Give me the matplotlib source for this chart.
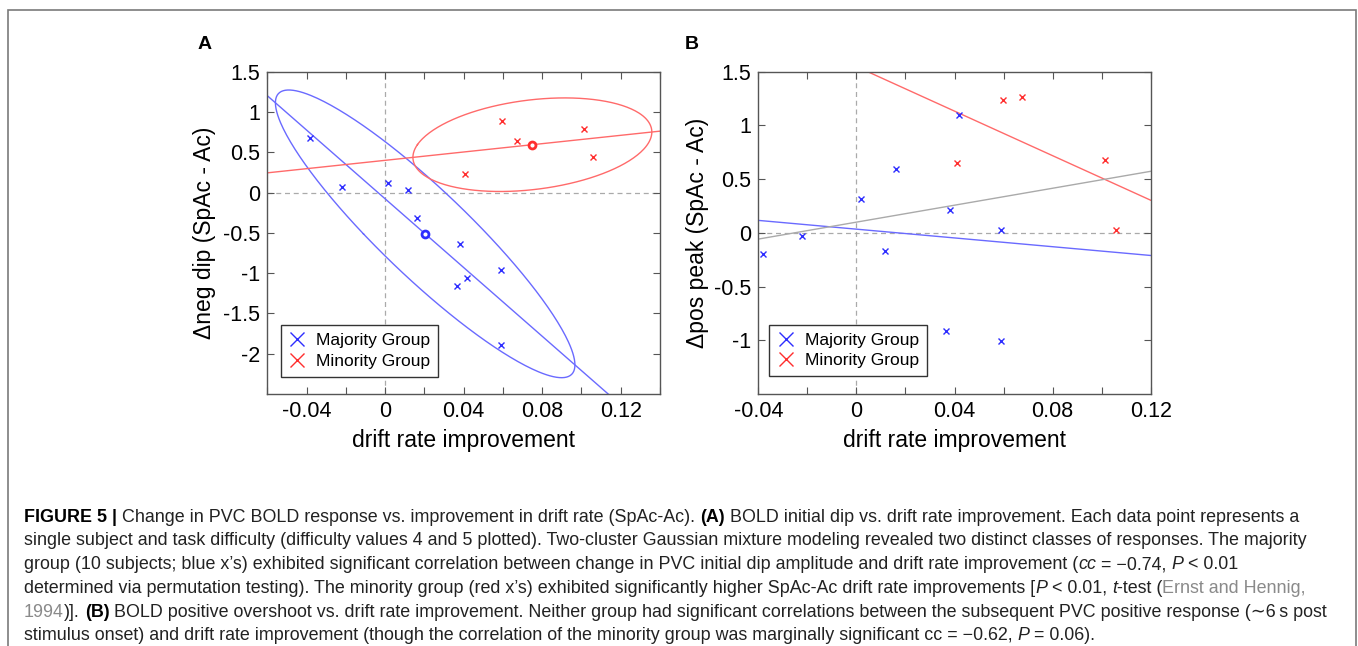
import numpy as np
import matplotlib
matplotlib.use('Agg')
import matplotlib.pyplot as plt
from matplotlib.lines import Line2D
from matplotlib.patches import Rectangle
from matplotlib.ticker import MultipleLocator

plt.rcParams['font.family'] = ['Liberation Sans', 'DejaVu Sans']

# valores
drift_maj = [-0.0382, -0.0221, 0.0017, 0.0116, 0.0163, 0.0381, 0.0367, 0.0418, 0.0591, 0.0590]
dip_maj = [0.678, 0.070, 0.124, 0.029, -0.318, -0.636, -1.157, -1.058, -0.967, -1.888]
peak_maj = [-0.195, -0.028, 0.313, -0.167, 0.591, 0.217, -0.913, 1.093, 0.022, -1.006]

drift_min = [0.0597, 0.0674, 0.0409, 0.1013, 0.1057]
dip_min = [0.884, 0.636, 0.227, 0.785, 0.438]
peak_min = [1.241, 1.260, 0.647, 0.678, 0.025]

xticks = [-0.04, 0, 0.04, 0.08, 0.12]
xtick_labels = ['-0.04', '0', '0.04', '0.08', '0.12']
yticks_a = [-2, -1.5, -1, -0.5, 0, 0.5, 1, 1.5]
ytick_labels_a = ['-2', '-1.5', '-1', '-0.5', '0', '0.5', '1', '1.5']
yticks_b = [-1, -0.5, 0, 0.5, 1, 1.5]
ytick_labels_b = ['-1', '-0.5', '0', '0.5', '1', '1.5']
legend_labels = ['Majority Group', 'Minority Group']

caption = [
    [("FIGURE 5 |", 'b'), (" Change in PVC BOLD response vs. improvement in drift rate (SpAc-Ac). ", ''),
     ("(A)", 'b'), (" BOLD initial dip vs. drift rate improvement. Each data point represents a", '')],
    [("single subject and task difficulty (difficulty values 4 and 5 plotted). Two-cluster Gaussian mixture "
      "modeling revealed two distinct classes of responses. The majority", '')],
    [("group (10 subjects; blue x\u2019s) exhibited significant correlation between change in PVC initial dip "
      "amplitude and drift rate improvement (", ''), ("cc", 'i'), (" = \u22120.74, ", ''), ("P", 'i'),
     (" < 0.01", '')],
    [("determined via permutation testing). The minority group (red x\u2019s) exhibited significantly higher "
      "SpAc-Ac drift rate improvements [", ''), ("P", 'i'), (" < 0.01, ", ''), ("t", 'i'), ("-test (", ''),
     ("Ernst and Hennig,", 'g')],
    [("1994", 'g'), (")]. ", ''), ("(B)", 'b'),
     (" BOLD positive overshoot vs. drift rate improvement. Neither group had significant correlations between "
      "the subsequent PVC positive response (\u223c6\u2009s post", '')],
    [("stimulus onset) and drift rate improvement (though the correlation of the minority group was marginally "
      "significant cc = \u22120.62, ", ''), ("P", 'i'), (" = 0.06).", '')],
]

W, H = 1358, 646
AZUL = '#2e2eff'
AZUL_L = '#6a6aff'
VERM = '#ff2e2e'
VERM_L = '#ff6a6a'
CINZA = '#555555'


def elipse(x, y, k=2.4477, n=300):
    x = np.asarray(x)
    y = np.asarray(y)
    c = np.cov(x, y, bias=True)
    vals, vecs = np.linalg.eigh(c)
    t = np.linspace(0, 2 * np.pi, n)
    circ = np.vstack([np.cos(t), np.sin(t)])
    pts = vecs @ (np.sqrt(vals)[:, None] * circ) * k
    return x.mean() + pts[0], y.mean() + pts[1]


def reta(ax, x, y, cor):
    a, b = np.polyfit(x, y, 1)
    xs = np.array(ax.get_xlim())
    ax.plot(xs, a * xs + b, color=cor, lw=1.0, zorder=2)


def estilo(ax, xlim, ylim, yt, ytl):
    ax.set_xlim(xlim)
    ax.set_ylim(ylim)
    ax.set_xticks(xticks)
    ax.set_xticklabels(xtick_labels)
    ax.set_yticks(yt)
    ax.set_yticklabels(ytl)
    ax.xaxis.set_minor_locator(MultipleLocator(0.02))
    ax.tick_params(which='both', direction='in', top=True, right=True, color=CINZA, width=0.8)
    ax.tick_params(which='major', length=5, labelsize=15.5, pad=5)
    ax.tick_params(which='minor', length=5)
    for sp in ax.spines.values():
        sp.set_color(CINZA)
        sp.set_linewidth(1.0)
    ax.axhline(0, color='#aaaaaa', lw=0.9, ls=(0, (4, 3)), zorder=1)
    ax.axvline(0, color='#aaaaaa', lw=0.9, ls=(0, (4, 3)), zorder=1)


def legenda(ax, pos):
    hs = [Line2D([], [], color=AZUL, marker='x', ls='none', ms=10, mew=1.0),
          Line2D([], [], color=VERM, marker='x', ls='none', ms=10, mew=1.0)]
    lg = ax.legend(hs, legend_labels, loc='lower left', bbox_to_anchor=pos, fontsize=12.5,
                   fancybox=False, edgecolor='#333333', framealpha=1, handlelength=1.0,
                   handletextpad=0.6, borderpad=0.45, labelspacing=0.3, borderaxespad=0)
    lg.get_frame().set_linewidth(1.0)


def desenha_linha(fig, x_px, y_px, runs, size):
    r = fig.canvas.get_renderer()
    x = x_px
    for txt, st in runs:
        kw = dict(fontsize=size, color='#222222')
        if st == 'b':
            kw['weight'] = 'bold'
            kw['color'] = 'black'
        if st == 'i':
            kw['style'] = 'italic'
        if st == 'g':
            kw['color'] = '#8a8a8a'
        t1 = fig.text(0, 0, 'a a', **kw)
        t2 = fig.text(0, 0, 'aa', **kw)
        sp = t1.get_window_extent(renderer=r).width - t2.get_window_extent(renderer=r).width
        t1.remove()
        t2.remove()
        core = txt.strip(' ')
        lead = len(txt) - len(txt.lstrip(' '))
        trail = len(txt) - len(txt.rstrip(' '))
        x += lead * sp
        t = fig.text(x / W, 1 - y_px / H, core, va='baseline', ha='left', **kw)
        x += t.get_window_extent(renderer=r).width + trail * sp


fig = plt.figure(figsize=(W / 100, H / 100), dpi=100)

# painel A
axA = fig.add_axes([267.3 / W, 1 - 394 / H, 392.7 / W, 322.3 / H])
estilo(axA, (-0.06, 0.14), (-2.5, 1.5), yticks_a, ytick_labels_a)
ex, ey = elipse(drift_maj, dip_maj)
axA.plot(ex, ey, color=AZUL_L, lw=1.0)
ex, ey = elipse(drift_min, dip_min)
axA.plot(ex, ey, color=VERM_L, lw=1.0)
reta(axA, drift_maj, dip_maj, AZUL_L)
reta(axA, drift_min, dip_min, VERM_L)
axA.plot(drift_maj, dip_maj, ls='none', marker='x', ms=5, mew=1.0, color=AZUL, zorder=3)
axA.plot(drift_min, dip_min, ls='none', marker='x', ms=5, mew=1.0, color=VERM, zorder=3)
axA.plot(np.mean(drift_maj), np.mean(dip_maj), marker='o', ms=5, mew=2, mfc='white', mec=AZUL, zorder=4)
axA.plot(np.mean(drift_min), np.mean(dip_min), marker='o', ms=5, mew=2, mfc='white', mec=VERM, zorder=4)
axA.set_xlabel('drift rate improvement', fontsize=16.5, labelpad=5)
axA.set_ylabel('\u0394neg dip (SpAc - Ac)', fontsize=16.5, labelpad=5)
legenda(axA, (0.034, 0.054))

# painel B
axB = fig.add_axes([758.3 / W, 1 - 394 / H, 392.4 / W, 322.3 / H])
estilo(axB, (-0.04, 0.12), (-1.5, 1.5), yticks_b, ytick_labels_b)
reta(axB, drift_maj, peak_maj, AZUL_L)
reta(axB, drift_min, peak_min, VERM_L)
reta(axB, drift_maj + drift_min, peak_maj + peak_min, '#aaaaaa')
axB.plot(drift_maj, peak_maj, ls='none', marker='x', ms=5, mew=1.0, color=AZUL, zorder=3)
axB.plot(drift_min, peak_min, ls='none', marker='x', ms=5, mew=1.0, color=VERM, zorder=3)
axB.set_xlabel('drift rate improvement', fontsize=16.5, labelpad=5)
axB.set_ylabel('\u0394pos peak (SpAc - Ac)', fontsize=16.5, labelpad=4)
legenda(axB, (0.028, 0.056))

fig.text(198 / W, 1 - 49 / H, 'A', fontsize=14, weight='bold', va='baseline')
fig.text(685 / W, 1 - 49 / H, 'B', fontsize=14, weight='bold', va='baseline')

# moldura
fig.patches.append(Rectangle((8 / W, -0.02), 1347.5 / W, 1 - 10 / H + 0.02, transform=fig.transFigure,
                             fill=False, ec='#7a7a7a', lw=1.2, clip_on=False))

# legenda da figura
for i, linha in enumerate(caption):
    desenha_linha(fig, 24, 521.5 + i * 23.8, linha, 12.9)

fig.savefig('out.png', dpi=100)
plt.close(fig)
